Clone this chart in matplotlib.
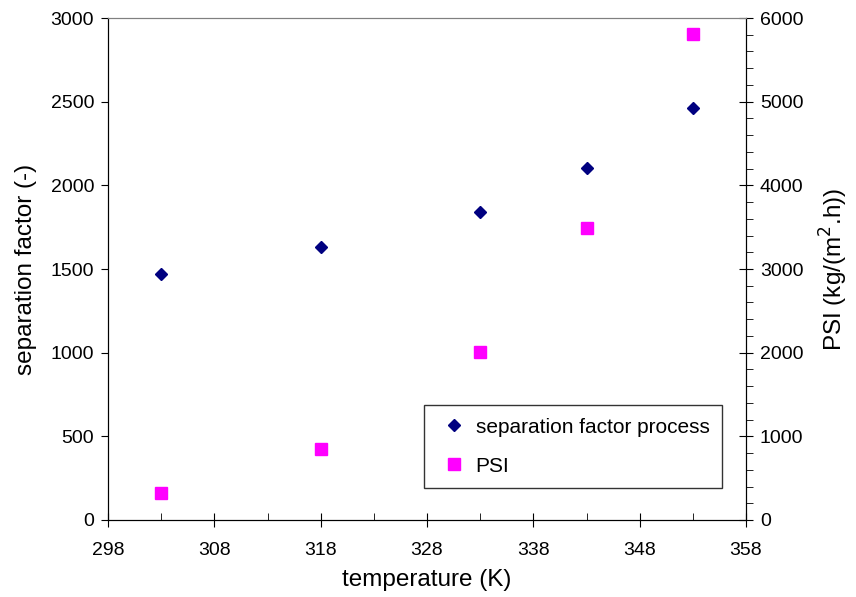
import matplotlib.pyplot as plt
from matplotlib.ticker import FixedLocator, MultipleLocator

plt.rcParams['font.family'] = ['Liberation Sans', 'DejaVu Sans']

# data
temperature = [303, 318, 333, 343, 353]
sep_factor = [1470, 1632, 1841, 2104, 2463]
psi = [323, 849, 2008, 3490, 5809]
x_ticks = [298, 308, 318, 328, 338, 348, 358]

fig = plt.figure(figsize=(8.56, 5.97), dpi=100)
ax = fig.add_axes([0.1262, 0.129, 0.7453, 0.8408])
ax2 = ax.twinx()

h1, = ax.plot(temperature, sep_factor, linestyle='none', marker='D',
              markersize=6, color='#000080', label='separation factor process')
h2, = ax2.plot(temperature, psi, linestyle='none', marker='s',
               markersize=8, color='#FF00FF', label='PSI')

ax.set_xlim(298, 358)
ax.set_ylim(0, 3000)
ax2.set_ylim(0, 6000)
ax.xaxis.set_major_locator(FixedLocator(x_ticks))
ax.xaxis.set_minor_locator(FixedLocator([t + 5 for t in x_ticks[:-1]]))
ax.yaxis.set_major_locator(MultipleLocator(500))
ax2.yaxis.set_major_locator(MultipleLocator(1000))
ax2.yaxis.set_minor_locator(MultipleLocator(200))

ax.tick_params(axis='x', which='major', direction='inout', length=10, labelsize=14, pad=11)
ax.tick_params(axis='x', which='minor', direction='in', length=5)
ax.tick_params(axis='y', which='major', direction='out', length=5, labelsize=14, pad=5)
ax2.tick_params(axis='y', which='major', direction='inout', length=10, labelsize=14, pad=5)
ax2.tick_params(axis='y', which='minor', direction='out', length=5)

for a in (ax, ax2):
    a.spines['top'].set_color('#808080')

ax.set_xlabel('temperature (K)', fontsize=17.5, labelpad=7)
ax.set_ylabel('separation factor (-)', fontsize=17.5, labelpad=10)
ax2.set_ylabel('PSI (kg/(m$^2$.h))', fontsize=17.5, rotation=90, labelpad=10)

leg = ax2.legend(handles=[h1, h2], loc='lower right', bbox_to_anchor=(0.9624, 0.0637),
                 fontsize=15, frameon=True, fancybox=False, edgecolor='black',
                 borderpad=0.6, labelspacing=0.95, handlelength=1.7, handletextpad=0.2,
                 borderaxespad=0)
leg.get_frame().set_linewidth(1.0)

fig.savefig('out.png', dpi=100)
